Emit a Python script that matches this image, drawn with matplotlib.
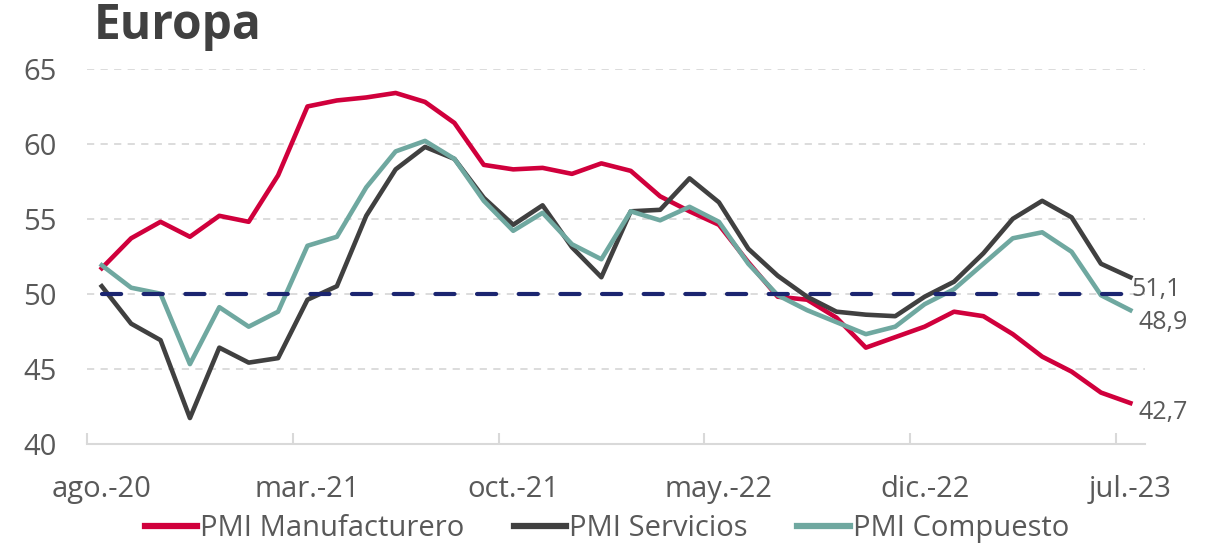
import matplotlib
matplotlib.use("Agg")
import matplotlib.pyplot as plt
from matplotlib.ticker import FixedLocator

plt.rcParams["font.family"] = ["Open Sans", "DejaVu Sans"]

# months ago.-20 .. jul.-23
months = ["ago.-20", "sep.-20", "oct.-20", "nov.-20", "dic.-20",
          "ene.-21", "feb.-21", "mar.-21", "abr.-21", "may.-21", "jun.-21", "jul.-21",
          "ago.-21", "sep.-21", "oct.-21", "nov.-21", "dic.-21",
          "ene.-22", "feb.-22", "mar.-22", "abr.-22", "may.-22", "jun.-22", "jul.-22",
          "ago.-22", "sep.-22", "oct.-22", "nov.-22", "dic.-22",
          "ene.-23", "feb.-23", "mar.-23", "abr.-23", "may.-23", "jun.-23", "jul.-23"]

pmi_manuf = [51.7, 53.7, 54.8, 53.8, 55.2, 54.8, 57.9, 62.5, 62.9, 63.1, 63.4, 62.8,
             61.4, 58.6, 58.3, 58.4, 58.0, 58.7, 58.2, 56.5, 55.5, 54.6, 52.1, 49.8,
             49.6, 48.4, 46.4, 47.1, 47.8, 48.8, 48.5, 47.3, 45.8, 44.8, 43.4, 42.7]
pmi_serv = [50.5, 48.0, 46.9, 41.7, 46.4, 45.4, 45.7, 49.6, 50.5, 55.2, 58.3, 59.8,
            59.0, 56.4, 54.6, 55.9, 53.1, 51.1, 55.5, 55.6, 57.7, 56.1, 53.0, 51.2,
            49.8, 48.8, 48.6, 48.5, 49.8, 50.8, 52.7, 55.0, 56.2, 55.1, 52.0, 51.1]
pmi_comp = [51.9, 50.4, 50.0, 45.3, 49.1, 47.8, 48.8, 53.2, 53.8, 57.1, 59.5, 60.2,
            59.0, 56.2, 54.2, 55.4, 53.3, 52.3, 55.5, 54.9, 55.8, 54.8, 52.0, 49.9,
            48.9, 48.1, 47.3, 47.8, 49.3, 50.3, 52.0, 53.7, 54.1, 52.8, 49.9, 48.9]
threshold = [50.0] * len(months)

tick_every = 7
label_months = months[::tick_every]  # ago.-20, mar.-21, oct.-21, may.-22, dic.-22, jul.-23

c_red = "#D0003C"
c_dark = "#404040"
c_teal = "#6FA8A0"
c_navy = "#1B2570"
c_text = "#595959"
c_grid = "#D9D9D9"

fig = plt.figure(figsize=(12.21, 5.45), dpi=100)
ax = fig.add_axes([0.0713, 0.1862, 0.8665, 0.6872])

x = list(range(len(months)))
ax.plot(x, pmi_manuf, color=c_red, lw=3.3, label="PMI Manufacturero", zorder=3)
ax.plot(x, pmi_serv, color=c_dark, lw=3.3, label="PMI Servicios", zorder=4)
ax.plot(x, pmi_comp, color=c_teal, lw=3.3, label="PMI Compuesto", zorder=5)
ax.plot(x, threshold, color=c_navy, lw=3.0, linestyle=(0, (4.6, 5.4)),
        dash_capstyle="round", zorder=6)

ax.set_xlim(-0.5, len(months) - 0.5)
ax.set_ylim(40, 65)
ax.set_yticks([40, 45, 50, 55, 60, 65])

# tick marks at category boundaries, labels at category centres
ax.xaxis.set_major_locator(FixedLocator([i for i in x if i % tick_every == 0]))
ax.set_xticklabels(label_months)
ax.xaxis.set_minor_locator(FixedLocator([i - 0.5 for i in x if i % tick_every == 0]))
ax.tick_params(axis="x", which="major", length=0, pad=23, labelsize=21, labelcolor=c_text)
ax.tick_params(axis="x", which="minor", length=8, width=1.5, color=c_grid, direction="in")
ax.tick_params(axis="y", length=0, pad=22, labelsize=21, labelcolor=c_text)

ax.grid(axis="y", color=c_grid, lw=1.3, linestyle=(0, (4, 3.5)))
ax.set_axisbelow(True)
for side in ["top", "right", "left"]:
    ax.spines[side].set_visible(False)
ax.spines["bottom"].set_color(c_grid)
ax.spines["bottom"].set_linewidth(1.5)

# end labels
ax.annotate("51,1", xy=(x[-1], pmi_serv[-1]), xytext=(1, -9), textcoords="offset points",
            ha="left", va="center", fontsize=18, color=c_text)
ax.annotate("48,9", xy=(x[-1], pmi_comp[-1]), xytext=(6, -9), textcoords="offset points",
            ha="left", va="center", fontsize=18, color=c_text)
ax.annotate("42,7", xy=(x[-1], pmi_manuf[-1]), xytext=(6, -7), textcoords="offset points",
            ha="left", va="center", fontsize=18, color=c_text)

fig.text(0.077, 0.952, "Europa", fontsize=34.5, fontweight="bold", color=c_dark,
         ha="left", va="center")

leg = fig.legend(loc="center", bbox_to_anchor=(0.497, 0.03), ncol=3, frameon=False,
                 fontsize=21, handlelength=1.8, handletextpad=0.1, columnspacing=1.7)
for t in leg.get_texts():
    t.set_color(c_text)
for h in leg.legend_handles:
    h.set_linewidth(4.5)

fig.savefig("out.png", dpi=100)
